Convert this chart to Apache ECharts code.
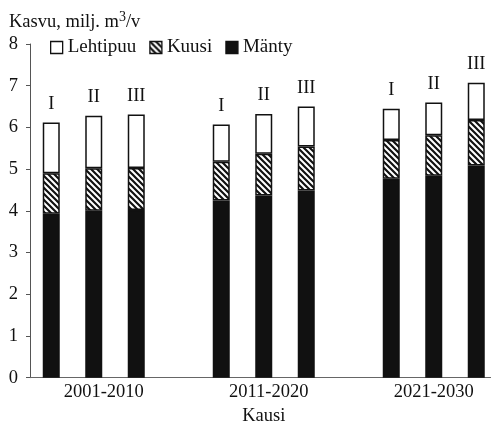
<!DOCTYPE html>
<html>
<head>
<meta charset="utf-8">
<script src="https://cdn.jsdelivr.net/npm/echarts@6/dist/echarts.min.js"></script>
<style>html,body{margin:0;padding:0;background:#fff}#c{width:491px;height:423px}</style>
</head>
<body>
<div id="c"></div>
<script>
const periods = ['2001-2010', '2011-2020', '2021-2030'];
const scenarios = ['I', 'II', 'III'];
const yTicks = [0, 1, 2, 3, 4, 5, 6, 7, 8];
// values per bar: period 1 (I, II, III), period 2 (I, II, III), period 3 (I, II, III)
const manty    = [3.93, 4.00, 4.02, 4.25, 4.37, 4.49, 4.77, 4.84, 5.09];
const kuusi    = [0.97, 1.02, 1.01, 0.93, 1.00, 1.05, 0.93, 0.97, 1.09];
const lehtipuu = [1.22, 1.26, 1.28, 0.89, 0.95, 0.96, 0.75, 0.79, 0.89];

// build slots: 3 bars per period + a gap between periods
const cats = [], slotIdx = [], slotScen = [];
periods.forEach((p, g) => {
  scenarios.forEach((s, k) => {
    cats.push(k === 1 ? {value: p, textStyle: {padding: g === 0 ? [0,0,0,20] : (g === 1 ? [0,0,0,10] : 0)}} : {value: ''});
    slotIdx.push(g * 3 + k); slotScen.push(s);
  });
  if (g < periods.length - 1) { cats.push({value: ''}); slotIdx.push(-1); slotScen.push(''); }
});
const mk = arr => slotIdx.map(i => i < 0 ? '-' : arr[i]);

// hatch pattern
const pc = document.createElement('canvas');
pc.width = 6; pc.height = 6;
const ctx = pc.getContext('2d');
ctx.fillStyle = '#fff'; ctx.fillRect(0, 0, 6, 6);
ctx.strokeStyle = '#111'; ctx.lineWidth = 2.2;
ctx.beginPath();
ctx.moveTo(-2, -2); ctx.lineTo(8, 8);
ctx.moveTo(-2, 4); ctx.lineTo(2, 8);
ctx.moveTo(4, -2); ctx.lineTo(8, 2);
ctx.stroke();
const hatch = {image: pc, repeat: 'repeat'};

const FONT = 'Liberation Serif';
const chart = echarts.init(document.getElementById('c'), null, {renderer: 'canvas'});
const border = {borderColor: '#111', borderWidth: 1.5};
chart.setOption({
  animation: false,
  backgroundColor: '#fff',
  textStyle: {fontFamily: FONT, color: '#111'},
  title: {
    left: 9, top: 10, padding: 0,
    text: '{a|Kasvu, milj. m}{s|3}{a|/v}',
    textStyle: {
      fontWeight: 'normal',
      rich: {
        a: {fontFamily: FONT, fontSize: 18.5, fontWeight: 'normal', color: '#111', verticalAlign: 'bottom'},
        s: {fontFamily: FONT, fontSize: 14, fontWeight: 'normal', color: '#111', verticalAlign: 'bottom', padding: [0, 0, 8, 0]}
      }
    }
  },
  legend: {
    left: 50, top: 38, padding: 0,
    icon: 'rect',
    itemWidth: 12, itemHeight: 12, itemGap: 13,
    data: ['Lehtipuu', 'Kuusi', 'Mänty'],
    textStyle: {fontFamily: FONT, fontSize: 19, color: '#111'},
    itemStyle: {borderColor: '#111', borderWidth: 1.3}
  },
  grid: {left: 30, top: 44, width: 467.5, height: 333.7, containLabel: false, outerBoundsMode: 'none'},
  xAxis: {
    type: 'category', data: cats,
    name: 'Kausi', nameLocation: 'middle', nameGap: 29,
    nameTextStyle: {fontFamily: FONT, fontSize: 18.5, color: '#111'},
    axisLine: {lineStyle: {color: '#666', width: 1}},
    axisTick: {show: false},
    axisLabel: {interval: 0, fontFamily: FONT, fontSize: 18.5, color: '#111', margin: 5}
  },
  yAxis: {
    type: 'value', min: yTicks[0], max: yTicks[yTicks.length - 1], interval: 1,
    splitLine: {show: false},
    axisLine: {show: true, lineStyle: {color: '#555', width: 1}},
    axisTick: {show: true, inside: false, length: 4, lineStyle: {color: '#555'}},
    axisLabel: {fontFamily: FONT, fontSize: 18.5, color: '#111', margin: 12}
  },
  series: [
    {name: 'Mänty', type: 'bar', stack: 'a', barWidth: 17, data: mk(manty),
     itemStyle: Object.assign({color: '#111'}, border)},
    {name: 'Kuusi', type: 'bar', stack: 'a', barWidth: 17, data: mk(kuusi),
     itemStyle: Object.assign({color: hatch}, border)},
    {name: 'Lehtipuu', type: 'bar', stack: 'a', barWidth: 17, data: mk(lehtipuu),
     itemStyle: Object.assign({color: '#fff'}, border),
     label: {show: true, position: 'top', distance: 9, fontFamily: FONT, fontSize: 18.5, color: '#111',
       formatter: p => slotScen[p.dataIndex]}}
  ]
});
</script>
</body>
</html>
